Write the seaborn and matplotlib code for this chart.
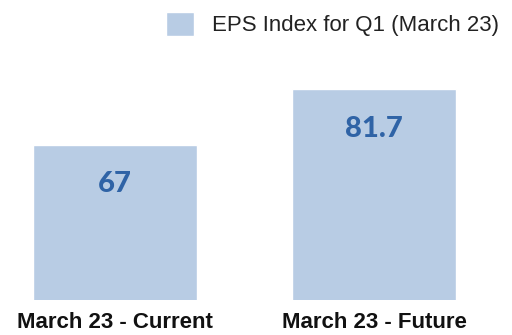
import matplotlib
matplotlib.use("Agg")
import matplotlib.pyplot as plt
import seaborn as sns
import pandas as pd

categories = ["March 23 - Current", "March 23 - Future"]
values = [67, 81.7]
value_labels = ["67", "81.7"]
series_name = "EPS Index for Q1 (March 23)"

bar_color = "#b8cce4"
label_color = "#2f63a6"

sns.set_theme(style="white")
plt.rcParams["font.family"] = ["Liberation Sans", "DejaVu Sans"]

df = pd.DataFrame({"category": categories, "value": values, "series": series_name})

fig = plt.figure(figsize=(5.12, 3.35), dpi=100)
ax = fig.add_axes([0.0, 35 / 335, 1.0, 240 / 335])

sns.barplot(data=df, x="category", y="value", hue="series",
            palette=[bar_color], width=0.633, saturation=1,
            ax=ax, legend=True)

ax.set_xlim(-0.444, 1.533)
ax.set_ylim(25.8, 89.5)
ax.set_xlabel("")
ax.set_ylabel("")
ax.set_yticks([])
ax.tick_params(axis="x", length=0, pad=9)
for lbl in ax.get_xticklabels():
    lbl.set_fontweight("bold")
    lbl.set_fontsize(16)
    lbl.set_color("#111111")
for s in ax.spines.values():
    s.set_visible(False)

# value labels inside the bars near the top
for i, (v, t) in enumerate(zip(values, value_labels)):
    ax.text(i, v - 10.4, t, ha="center", va="center", fontsize=21,
            fontweight=900, color=label_color, family=["Lato", "DejaVu Sans"])

leg = ax.legend(loc="upper right", bbox_to_anchor=(0.988, 0.985), bbox_transform=fig.transFigure,
                frameon=False, fontsize=16, handlelength=1.3, handleheight=1.3,
                handletextpad=0.8, borderpad=0.3, borderaxespad=0)
for t in leg.get_texts():
    t.set_color("#222222")

fig.savefig("out.png", dpi=100)
